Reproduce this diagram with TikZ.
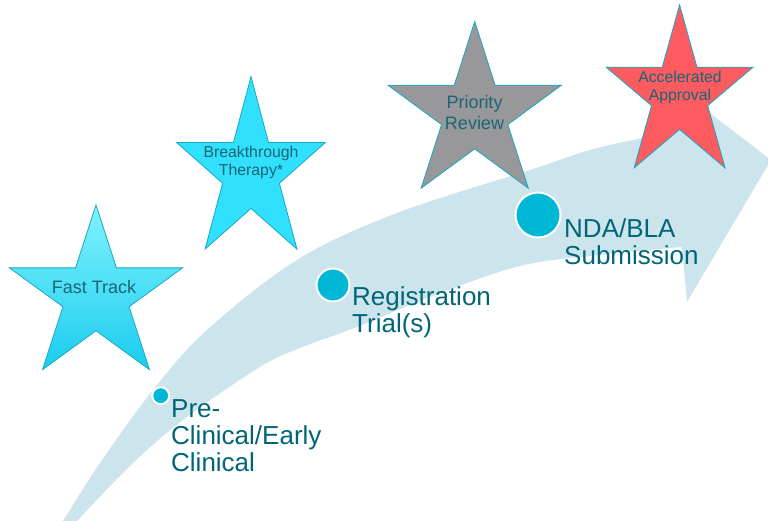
\documentclass[tikz,border=0pt]{standalone}
\usepackage{fontspec}
\setmainfont{Liberation Sans}

\definecolor{bandblue}{RGB}{204,229,237}
\definecolor{dotcyan}{RGB}{0,183,214}
\definecolor{labeltext}{RGB}{0,102,119}
\definecolor{startext}{RGB}{24,102,118}
\definecolor{staredge}{RGB}{22,168,198}
\definecolor{ftTop}{RGB}{128,243,255}
\definecolor{ftBottom}{RGB}{26,204,238}
\definecolor{btFill}{RGB}{48,224,252}
\definecolor{prFill}{RGB}{152,152,154}
\definecolor{aaFill}{RGB}{252,92,96}

% five-pointed star: #1 style, (#2,#3) centre, #4 outer radius, #5 vertical stretch
\newcommand{\drawstar}[5]{%
  \path[#1, shift={(#2,#3)}, yscale=-#5]
    (90:#4) -- (126:{0.382*#4}) -- (162:#4) -- (198:{0.382*#4}) --
    (234:#4) -- (270:{0.382*#4}) -- (306:#4) -- (342:{0.382*#4}) --
    (18:#4) -- (54:{0.382*#4}) -- cycle;}

\begin{document}
\begin{tikzpicture}[x=1pt,y=-1pt,
  lbl/.style={text=labeltext, font=\fontsize{26}{27}\selectfont,
    align=left, anchor=north west, inner sep=0pt},
  startxt/.style={text=startext, align=center, inner sep=0pt},
  milestone/.style={circle, fill=dotcyan, draw=white, line width=2pt, inner sep=0pt},
  starline/.style={draw=staredge, line width=0.8pt, line join=miter}
]
\useasboundingbox (0,0) rectangle (768,521);

% curved progress arrow
\fill[bandblue]
  plot[smooth, tension=0.6] coordinates {(57,530) (63,521) (100,463) (153,390)
      (207,330) (297,260) (397,213) (530,170) (590,150) (647,137) (672,132)}
  -- (667,80) -- (771,160) -- (687,302) -- (682,247)
  -- plot[smooth, tension=0.6] coordinates {(682,247) (600,255) (520,266)
      (430,297) (357,327) (300,348) (260,367) (187,417) (133,463) (77,521) (68,530)}
  -- cycle;

% designation stars
\drawstar{starline, top color=ftTop, bottom color=ftBottom}{96}{296}{91}{1.0}
\drawstar{starline, fill=btFill}{251}{172}{78.1}{1.22}
\drawstar{starline, fill=prFill}{474.7}{113.7}{91.2}{1.01}
\drawstar{starline, fill=aaFill}{679.6}{95}{77.3}{1.165}

\node[startxt, font=\fontsize{18}{21}\selectfont] (ft) at (94,287) {Fast Track};
\node[startxt, font=\fontsize{15.8}{18}\selectfont] (bt) at (251,162.5) {Breakthrough\\Therapy*};
\node[startxt, font=\fontsize{18}{21.7}\selectfont] (pr) at (474.5,112.5) {Priority\\Review};
\node[startxt, font=\fontsize{15.8}{18}\selectfont] (aa) at (680,87) {Accelerated\\Approval};

% milestones along the arrow
\node[milestone, minimum size=17pt] (m1) at (160.7,395.7) {};
\node[milestone, minimum size=33pt] (m2) at (333,285) {};
\node[milestone, minimum size=45pt] (m3) at (538,215) {};

\node[lbl] (l1) at (171,399.3) {Pre-\\Clinical/Early\\Clinical};
\node[lbl] (l2) at (352,286.3) {Registration\\Trial(s)};
\node[lbl] (l3) at (564,218.3) {NDA/BLA\\Submission};
\end{tikzpicture}
\end{document}
